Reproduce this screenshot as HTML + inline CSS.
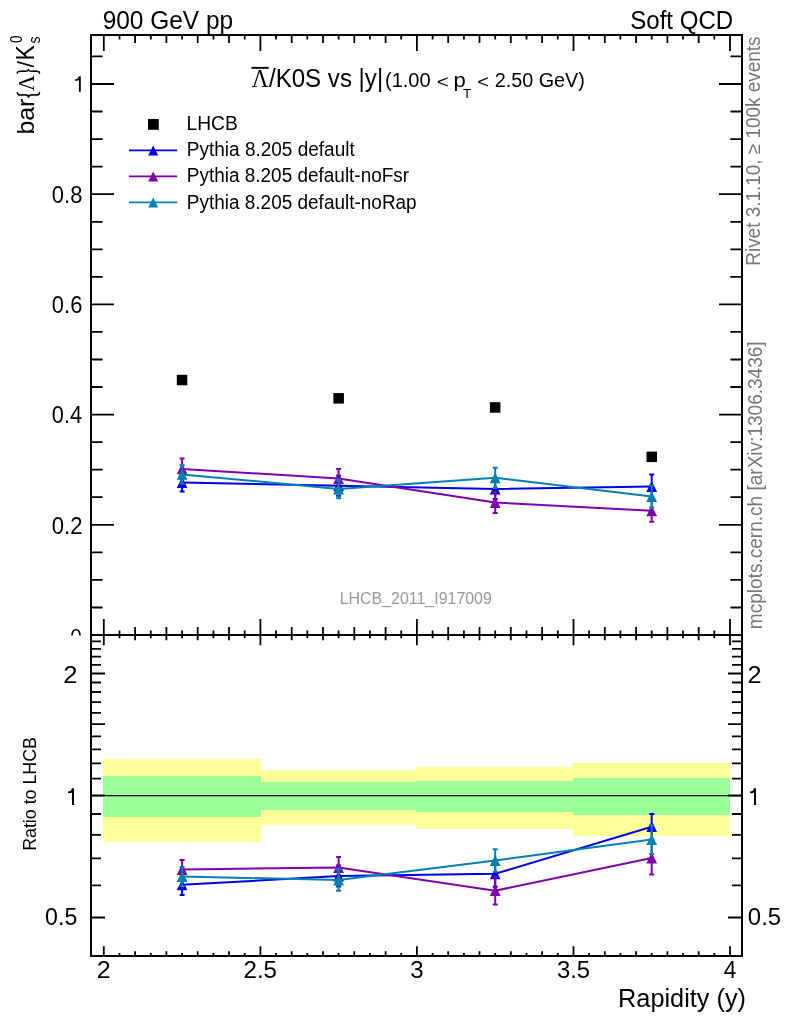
<!DOCTYPE html>
<html><head><meta charset="utf-8"><style>
html,body{margin:0;padding:0;background:#fff;width:786px;height:1024px;overflow:hidden}
svg{display:block;font-family:"Liberation Sans",sans-serif;will-change:transform}

</style></head><body>
<svg width="786" height="1024" viewBox="0 0 786 1024">
<rect width="786" height="1024" fill="#fff"/>
<rect x="103" y="758.6" width="157.5" height="83.1" fill="#ffff99" shape-rendering="crispEdges"/>
<rect x="260.5" y="770" width="155.5" height="54.9" fill="#ffff99" shape-rendering="crispEdges"/>
<rect x="416" y="767.1" width="157" height="61.7" fill="#ffff99" shape-rendering="crispEdges"/>
<rect x="573" y="763" width="157" height="72.6" fill="#ffff99" shape-rendering="crispEdges"/>
<rect x="103" y="775.9" width="157.5" height="41.2" fill="#99ff99" shape-rendering="crispEdges"/>
<rect x="260.5" y="782" width="155.5" height="27.7" fill="#99ff99" shape-rendering="crispEdges"/>
<rect x="416" y="780.5" width="157" height="31.3" fill="#99ff99" shape-rendering="crispEdges"/>
<rect x="573" y="778.1" width="157" height="36.6" fill="#99ff99" shape-rendering="crispEdges"/>
<line x1="91" y1="795.5" x2="742" y2="795.5" stroke="#000" stroke-width="1.25"/>
<path d="M103.8 35.0L103.8 51.0M103.8 635.0L103.8 619.0M103.8 635.0L103.8 645.2M103.8 956.0L103.8 946.2M119.5 35.0L119.5 39.5M119.5 635.0L119.5 630.5M119.5 635.0L119.5 638.3M119.5 956.0L119.5 953.1M135.1 35.0L135.1 43.0M135.1 635.0L135.1 627.0M135.1 635.0L135.1 640.3M135.1 956.0L135.1 951.2M150.8 35.0L150.8 39.5M150.8 635.0L150.8 630.5M150.8 635.0L150.8 638.3M150.8 956.0L150.8 953.1M166.4 35.0L166.4 43.0M166.4 635.0L166.4 627.0M166.4 635.0L166.4 640.3M166.4 956.0L166.4 951.2M182.1 35.0L182.1 39.5M182.1 635.0L182.1 630.5M182.1 635.0L182.1 638.3M182.1 956.0L182.1 953.1M197.7 35.0L197.7 43.0M197.7 635.0L197.7 627.0M197.7 635.0L197.7 640.3M197.7 956.0L197.7 951.2M213.4 35.0L213.4 39.5M213.4 635.0L213.4 630.5M213.4 635.0L213.4 638.3M213.4 956.0L213.4 953.1M229.0 35.0L229.0 43.0M229.0 635.0L229.0 627.0M229.0 635.0L229.0 640.3M229.0 956.0L229.0 951.2M244.7 35.0L244.7 39.5M244.7 635.0L244.7 630.5M244.7 635.0L244.7 638.3M244.7 956.0L244.7 953.1M260.4 35.0L260.4 51.0M260.4 635.0L260.4 619.0M260.4 635.0L260.4 645.2M260.4 956.0L260.4 946.2M276.0 35.0L276.0 39.5M276.0 635.0L276.0 630.5M276.0 635.0L276.0 638.3M276.0 956.0L276.0 953.1M291.7 35.0L291.7 43.0M291.7 635.0L291.7 627.0M291.7 635.0L291.7 640.3M291.7 956.0L291.7 951.2M307.3 35.0L307.3 39.5M307.3 635.0L307.3 630.5M307.3 635.0L307.3 638.3M307.3 956.0L307.3 953.1M323.0 35.0L323.0 43.0M323.0 635.0L323.0 627.0M323.0 635.0L323.0 640.3M323.0 956.0L323.0 951.2M338.6 35.0L338.6 39.5M338.6 635.0L338.6 630.5M338.6 635.0L338.6 638.3M338.6 956.0L338.6 953.1M354.3 35.0L354.3 43.0M354.3 635.0L354.3 627.0M354.3 635.0L354.3 640.3M354.3 956.0L354.3 951.2M369.9 35.0L369.9 39.5M369.9 635.0L369.9 630.5M369.9 635.0L369.9 638.3M369.9 956.0L369.9 953.1M385.6 35.0L385.6 43.0M385.6 635.0L385.6 627.0M385.6 635.0L385.6 640.3M385.6 956.0L385.6 951.2M401.2 35.0L401.2 39.5M401.2 635.0L401.2 630.5M401.2 635.0L401.2 638.3M401.2 956.0L401.2 953.1M416.9 35.0L416.9 51.0M416.9 635.0L416.9 619.0M416.9 635.0L416.9 645.2M416.9 956.0L416.9 946.2M432.6 35.0L432.6 39.5M432.6 635.0L432.6 630.5M432.6 635.0L432.6 638.3M432.6 956.0L432.6 953.1M448.2 35.0L448.2 43.0M448.2 635.0L448.2 627.0M448.2 635.0L448.2 640.3M448.2 956.0L448.2 951.2M463.9 35.0L463.9 39.5M463.9 635.0L463.9 630.5M463.9 635.0L463.9 638.3M463.9 956.0L463.9 953.1M479.5 35.0L479.5 43.0M479.5 635.0L479.5 627.0M479.5 635.0L479.5 640.3M479.5 956.0L479.5 951.2M495.2 35.0L495.2 39.5M495.2 635.0L495.2 630.5M495.2 635.0L495.2 638.3M495.2 956.0L495.2 953.1M510.8 35.0L510.8 43.0M510.8 635.0L510.8 627.0M510.8 635.0L510.8 640.3M510.8 956.0L510.8 951.2M526.5 35.0L526.5 39.5M526.5 635.0L526.5 630.5M526.5 635.0L526.5 638.3M526.5 956.0L526.5 953.1M542.1 35.0L542.1 43.0M542.1 635.0L542.1 627.0M542.1 635.0L542.1 640.3M542.1 956.0L542.1 951.2M557.8 35.0L557.8 39.5M557.8 635.0L557.8 630.5M557.8 635.0L557.8 638.3M557.8 956.0L557.8 953.1M573.5 35.0L573.5 51.0M573.5 635.0L573.5 619.0M573.5 635.0L573.5 645.2M573.5 956.0L573.5 946.2M589.1 35.0L589.1 39.5M589.1 635.0L589.1 630.5M589.1 635.0L589.1 638.3M589.1 956.0L589.1 953.1M604.8 35.0L604.8 43.0M604.8 635.0L604.8 627.0M604.8 635.0L604.8 640.3M604.8 956.0L604.8 951.2M620.4 35.0L620.4 39.5M620.4 635.0L620.4 630.5M620.4 635.0L620.4 638.3M620.4 956.0L620.4 953.1M636.1 35.0L636.1 43.0M636.1 635.0L636.1 627.0M636.1 635.0L636.1 640.3M636.1 956.0L636.1 951.2M651.7 35.0L651.7 39.5M651.7 635.0L651.7 630.5M651.7 635.0L651.7 638.3M651.7 956.0L651.7 953.1M667.4 35.0L667.4 43.0M667.4 635.0L667.4 627.0M667.4 635.0L667.4 640.3M667.4 956.0L667.4 951.2M683.0 35.0L683.0 39.5M683.0 635.0L683.0 630.5M683.0 635.0L683.0 638.3M683.0 956.0L683.0 953.1M698.7 35.0L698.7 43.0M698.7 635.0L698.7 627.0M698.7 635.0L698.7 640.3M698.7 956.0L698.7 951.2M714.3 35.0L714.3 39.5M714.3 635.0L714.3 630.5M714.3 635.0L714.3 638.3M714.3 956.0L714.3 953.1M730.0 35.0L730.0 51.0M730.0 635.0L730.0 619.0M730.0 635.0L730.0 645.2M730.0 956.0L730.0 946.2M91.0 635.0L114.0 635.0M742.0 635.0L719.0 635.0M91.0 607.5L102.6 607.5M742.0 607.5L730.4 607.5M91.0 579.9L102.6 579.9M742.0 579.9L730.4 579.9M91.0 552.4L102.6 552.4M742.0 552.4L730.4 552.4M91.0 524.8L114.0 524.8M742.0 524.8L719.0 524.8M91.0 497.2L102.6 497.2M742.0 497.2L730.4 497.2M91.0 469.7L102.6 469.7M742.0 469.7L730.4 469.7M91.0 442.1L102.6 442.1M742.0 442.1L730.4 442.1M91.0 414.6L114.0 414.6M742.0 414.6L719.0 414.6M91.0 387.0L102.6 387.0M742.0 387.0L730.4 387.0M91.0 359.5L102.6 359.5M742.0 359.5L730.4 359.5M91.0 331.9L102.6 331.9M742.0 331.9L730.4 331.9M91.0 304.4L114.0 304.4M742.0 304.4L719.0 304.4M91.0 276.8L102.6 276.8M742.0 276.8L730.4 276.8M91.0 249.3L102.6 249.3M742.0 249.3L730.4 249.3M91.0 221.8L102.6 221.8M742.0 221.8L730.4 221.8M91.0 194.2L114.0 194.2M742.0 194.2L719.0 194.2M91.0 166.6L102.6 166.6M742.0 166.6L730.4 166.6M91.0 139.1L102.6 139.1M742.0 139.1L730.4 139.1M91.0 111.5L102.6 111.5M742.0 111.5L730.4 111.5M91.0 84.0L114.0 84.0M742.0 84.0L719.0 84.0M91.0 56.4L102.6 56.4M742.0 56.4L730.4 56.4M91.0 917.5L105.0 917.5M742.0 917.5L728.0 917.5M91.0 885.4L101.0 885.4M742.0 885.4L732.0 885.4M91.0 858.3L101.0 858.3M742.0 858.3L732.0 858.3M91.0 834.8L101.0 834.8M742.0 834.8L732.0 834.8M91.0 814.0L101.0 814.0M742.0 814.0L732.0 814.0M91.0 795.5L105.0 795.5M742.0 795.5L728.0 795.5M91.0 778.7L101.0 778.7M742.0 778.7L732.0 778.7M91.0 763.4L101.0 763.4M742.0 763.4L732.0 763.4M91.0 749.3L101.0 749.3M742.0 749.3L732.0 749.3M91.0 736.3L101.0 736.3M742.0 736.3L732.0 736.3M91.0 724.1L105.0 724.1M742.0 724.1L728.0 724.1M91.0 712.8L101.0 712.8M742.0 712.8L732.0 712.8M91.0 702.1L101.0 702.1M742.0 702.1L732.0 702.1M91.0 692.0L101.0 692.0M742.0 692.0L732.0 692.0M91.0 682.5L101.0 682.5M742.0 682.5L732.0 682.5M91.0 673.5L105.0 673.5M742.0 673.5L728.0 673.5M91.0 664.9L101.0 664.9M742.0 664.9L732.0 664.9M91.0 656.7L101.0 656.7M742.0 656.7L732.0 656.7M91.0 648.9L101.0 648.9M742.0 648.9L732.0 648.9M91.0 641.4L101.0 641.4M742.0 641.4L732.0 641.4" stroke="#000" stroke-width="1.8" fill="none"/>
<polyline points="182.1,482.6 338.6,485.8 495.2,489.0 651.7,486.5" fill="none" stroke="#0000e6" stroke-width="2"/>
<path d="M182.1 473.6L182.1 491.6M179.6 473.6L184.6 473.6M179.6 491.6L184.6 491.6M338.6 475.8L338.6 495.8M336.1 475.8L341.1 475.8M336.1 495.8L341.1 495.8M495.2 479.0L495.2 499.0M492.7 479.0L497.7 479.0M492.7 499.0L497.7 499.0M651.7 474.5L651.7 498.5M649.2 474.5L654.2 474.5M649.2 498.5L654.2 498.5" stroke="#0000e6" stroke-width="2" fill="none"/>
<path d="M176.7 488.0L187.5 488.0L182.1 477.2ZM333.2 491.2L344.0 491.2L338.6 480.4ZM489.8 494.4L500.6 494.4L495.2 483.6ZM646.3 491.9L657.1 491.9L651.7 481.1Z" fill="#0000e6"/>
<polyline points="182.1,468.9 338.6,478.5 495.2,502.5 651.7,510.8" fill="none" stroke="#8000b0" stroke-width="2"/>
<path d="M182.1 458.6L182.1 479.2M179.6 458.6L184.6 458.6M179.6 479.2L184.6 479.2M338.6 468.9L338.6 488.1M336.1 468.9L341.1 468.9M336.1 488.1L341.1 488.1M495.2 492.1L495.2 512.9M492.7 492.1L497.7 492.1M492.7 512.9L497.7 512.9M651.7 499.9L651.7 521.7M649.2 499.9L654.2 499.9M649.2 521.7L654.2 521.7" stroke="#8000b0" stroke-width="2" fill="none"/>
<path d="M176.7 474.3L187.5 474.3L182.1 463.5ZM333.2 483.9L344.0 483.9L338.6 473.1ZM489.8 507.9L500.6 507.9L495.2 497.1ZM646.3 516.2L657.1 516.2L651.7 505.4Z" fill="#8000b0"/>
<polyline points="182.1,474.4 338.6,489.0 495.2,477.8 651.7,496.5" fill="none" stroke="#0082b0" stroke-width="2"/>
<path d="M182.1 465.2L182.1 483.6M179.6 465.2L184.6 465.2M179.6 483.6L184.6 483.6M338.6 479.7L338.6 498.3M336.1 479.7L341.1 479.7M336.1 498.3L341.1 498.3M495.2 467.7L495.2 487.9M492.7 467.7L497.7 467.7M492.7 487.9L497.7 487.9M651.7 485.5L651.7 507.5M649.2 485.5L654.2 485.5M649.2 507.5L654.2 507.5" stroke="#0082b0" stroke-width="2" fill="none"/>
<path d="M176.7 479.8L187.5 479.8L182.1 469.0ZM333.2 494.4L344.0 494.4L338.6 483.6ZM489.8 483.2L500.6 483.2L495.2 472.4ZM646.3 501.9L657.1 501.9L651.7 491.1Z" fill="#0082b0"/>
<rect x="176.8" y="374.8" width="10.5" height="10.5" fill="#000"/>
<rect x="333.4" y="393.1" width="10.5" height="10.5" fill="#000"/>
<rect x="489.9" y="402.2" width="10.5" height="10.5" fill="#000"/>
<rect x="646.5" y="451.6" width="10.5" height="10.5" fill="#000"/>
<polyline points="182.1,884.8 338.6,876.0 495.2,873.8 651.7,826.7" fill="none" stroke="#0000e6" stroke-width="2"/>
<path d="M182.1 874.6L182.1 895.0M179.6 874.6L184.6 874.6M179.6 895.0L184.6 895.0M338.6 865.4L338.6 886.6M336.1 865.4L341.1 865.4M336.1 886.6L341.1 886.6M495.2 860.8L495.2 886.8M492.7 860.8L497.7 860.8M492.7 886.8L497.7 886.8M651.7 813.9L651.7 839.5M649.2 813.9L654.2 813.9M649.2 839.5L654.2 839.5" stroke="#0000e6" stroke-width="2" fill="none"/>
<path d="M176.7 890.2L187.5 890.2L182.1 879.4ZM333.2 881.4L344.0 881.4L338.6 870.6ZM489.8 879.2L500.6 879.2L495.2 868.4ZM646.3 832.1L657.1 832.1L651.7 821.3Z" fill="#0000e6"/>
<polyline points="182.1,869.5 338.6,867.5 495.2,890.7 651.7,858.0" fill="none" stroke="#8000b0" stroke-width="2"/>
<path d="M182.1 860.0L182.1 879.0M179.6 860.0L184.6 860.0M179.6 879.0L184.6 879.0M338.6 857.0L338.6 878.0M336.1 857.0L341.1 857.0M336.1 878.0L341.1 878.0M495.2 876.8L495.2 904.6M492.7 876.8L497.7 876.8M492.7 904.6L497.7 904.6M651.7 841.4L651.7 874.6M649.2 841.4L654.2 841.4M649.2 874.6L654.2 874.6" stroke="#8000b0" stroke-width="2" fill="none"/>
<path d="M176.7 874.9L187.5 874.9L182.1 864.1ZM333.2 872.9L344.0 872.9L338.6 862.1ZM489.8 896.1L500.6 896.1L495.2 885.3ZM646.3 863.4L657.1 863.4L651.7 852.6Z" fill="#8000b0"/>
<polyline points="182.1,876.5 338.6,880.0 495.2,860.5 651.7,839.6" fill="none" stroke="#0082b0" stroke-width="2"/>
<path d="M182.1 867.0L182.1 886.0M179.6 867.0L184.6 867.0M179.6 886.0L184.6 886.0M338.6 869.2L338.6 890.8M336.1 869.2L341.1 869.2M336.1 890.8L341.1 890.8M495.2 849.2L495.2 871.8M492.7 849.2L497.7 849.2M492.7 871.8L497.7 871.8M651.7 825.3L651.7 853.9M649.2 825.3L654.2 825.3M649.2 853.9L654.2 853.9" stroke="#0082b0" stroke-width="2" fill="none"/>
<path d="M176.7 881.9L187.5 881.9L182.1 871.1ZM333.2 885.4L344.0 885.4L338.6 874.6ZM489.8 865.9L500.6 865.9L495.2 855.1ZM646.3 845.0L657.1 845.0L651.7 834.2Z" fill="#0082b0"/>
<clipPath id="c0"><rect x="0" y="0" width="90" height="635.6"/></clipPath>
<g clip-path="url(#c0)"><text x="70.29" y="643.60" font-family="&quot;Liberation Sans&quot;, sans-serif" font-size="22.5" fill="#000" textLength="11.52" lengthAdjust="spacingAndGlyphs">0</text></g>
<rect x="91" y="35" width="651" height="600" fill="none" stroke="#000" stroke-width="2"/>
<rect x="91" y="635" width="651" height="321" fill="none" stroke="#000" stroke-width="2"/>
<text x="102.65" y="29.00" font-family="&quot;Liberation Sans&quot;, sans-serif" font-size="25" fill="#000" textLength="130.47" lengthAdjust="spacingAndGlyphs">900 GeV pp</text>
<text x="630.21" y="28.90" font-family="&quot;Liberation Sans&quot;, sans-serif" font-size="25" fill="#000" textLength="103.05" lengthAdjust="spacingAndGlyphs">Soft QCD</text>
<path d="M80.80 91.80L80.80 76.20L78.70 76.20Q78.40 79.32 75.00 79.32L75.00 80.72Q78.50 80.88 78.90 80.10L78.90 91.80Z" fill="#000"/>
<text x="51.84" y="203.00" font-family="&quot;Liberation Sans&quot;, sans-serif" font-size="23" fill="#000" textLength="30.51" lengthAdjust="spacingAndGlyphs">0.8</text>
<text x="51.84" y="313.20" font-family="&quot;Liberation Sans&quot;, sans-serif" font-size="23" fill="#000" textLength="30.52" lengthAdjust="spacingAndGlyphs">0.6</text>
<text x="51.85" y="423.40" font-family="&quot;Liberation Sans&quot;, sans-serif" font-size="23" fill="#000" textLength="30.18" lengthAdjust="spacingAndGlyphs">0.4</text>
<text x="51.84" y="533.60" font-family="&quot;Liberation Sans&quot;, sans-serif" font-size="23" fill="#000" textLength="30.67" lengthAdjust="spacingAndGlyphs">0.2</text>
<text x="63.21" y="682.90" font-family="&quot;Liberation Sans&quot;, sans-serif" font-size="24" fill="#000" textLength="14.28" lengthAdjust="spacingAndGlyphs">2</text>
<path d="M74.00 804.90L74.00 788.30L71.80 788.30Q71.50 791.62 68.00 791.62L68.00 793.11Q71.60 793.28 72.00 792.45L72.00 804.90Z" fill="#000"/>
<text x="45.10" y="925.20" font-family="&quot;Liberation Sans&quot;, sans-serif" font-size="24" fill="#000" textLength="32.18" lengthAdjust="spacingAndGlyphs">0.5</text>
<text x="747.43" y="682.90" font-family="&quot;Liberation Sans&quot;, sans-serif" font-size="24" fill="#000" textLength="14.04" lengthAdjust="spacingAndGlyphs">2</text>
<path d="M756.00 804.90L756.00 788.30L753.80 788.30Q753.50 791.62 750.00 791.62L750.00 793.11Q753.60 793.28 754.00 792.45L754.00 804.90Z" fill="#000"/>
<text x="747.86" y="925.20" font-family="&quot;Liberation Sans&quot;, sans-serif" font-size="24" fill="#000" textLength="33.34" lengthAdjust="spacingAndGlyphs">0.5</text>
<text x="96.84" y="978.00" font-family="&quot;Liberation Sans&quot;, sans-serif" font-size="24.3" fill="#000" textLength="13.92" lengthAdjust="spacingAndGlyphs">2</text>
<text x="243.49" y="978.00" font-family="&quot;Liberation Sans&quot;, sans-serif" font-size="24.3" fill="#000" textLength="33.53" lengthAdjust="spacingAndGlyphs">2.5</text>
<text x="410.28" y="978.00" font-family="&quot;Liberation Sans&quot;, sans-serif" font-size="24.3" fill="#000" textLength="13.37" lengthAdjust="spacingAndGlyphs">3</text>
<text x="556.89" y="978.00" font-family="&quot;Liberation Sans&quot;, sans-serif" font-size="24.3" fill="#000" textLength="33.21" lengthAdjust="spacingAndGlyphs">3.5</text>
<text x="723.78" y="978.00" font-family="&quot;Liberation Sans&quot;, sans-serif" font-size="24.3" fill="#000" textLength="12.58" lengthAdjust="spacingAndGlyphs">4</text>
<text x="618.02" y="1006.70" font-family="&quot;Liberation Sans&quot;, sans-serif" font-size="26" fill="#000" textLength="128.05" lengthAdjust="spacingAndGlyphs">Rapidity (y)</text>
<text x="339.70" y="603.80" font-family="&quot;Liberation Sans&quot;, sans-serif" font-size="17" fill="#999" textLength="152.15" lengthAdjust="spacingAndGlyphs">LHCB_2011_I917009</text>
<text x="-850.86" y="36.25" font-family="&quot;Liberation Sans&quot;, sans-serif" font-size="18.8" fill="#000" textLength="113.80" lengthAdjust="spacingAndGlyphs" transform="rotate(-90)">Ratio to LHCB</text>
<text x="-265.75" y="760.30" font-family="&quot;Liberation Sans&quot;, sans-serif" font-size="19.4" fill="#777" textLength="229.34" lengthAdjust="spacingAndGlyphs" transform="rotate(-90)">Rivet 3.1.10, ≥ 100k events</text>
<text x="-629.16" y="762.00" font-family="&quot;Liberation Sans&quot;, sans-serif" font-size="19.5" fill="#777" textLength="287.82" lengthAdjust="spacingAndGlyphs" transform="rotate(-90)">mcplots.cern.ch [arXiv:1306.3436]</text>
<text x="-134.61" y="33.90" font-family="&quot;Liberation Sans&quot;, sans-serif" font-size="24.5" fill="#000" textLength="36.02" lengthAdjust="spacingAndGlyphs" transform="rotate(-90)">bar</text>
<text x="-98.98" y="36.40" font-family="&quot;Liberation Serif&quot;, serif" font-size="27" fill="#000" textLength="8.37" lengthAdjust="spacingAndGlyphs" transform="rotate(-90)" stroke="#000" stroke-width="0.7">{</text>
<text x="-91.01" y="33.90" font-family="&quot;Liberation Serif&quot;, serif" font-size="23.5" fill="#000" textLength="15.94" lengthAdjust="spacingAndGlyphs" transform="rotate(-90)">Λ</text>
<text x="-74.78" y="36.40" font-family="&quot;Liberation Serif&quot;, serif" font-size="27" fill="#000" textLength="6.76" lengthAdjust="spacingAndGlyphs" transform="rotate(-90)" stroke="#000" stroke-width="0.7">}</text>
<text x="-67.60" y="33.90" font-family="&quot;Liberation Sans&quot;, sans-serif" font-size="24.5" fill="#000" textLength="6.50" lengthAdjust="spacingAndGlyphs" transform="rotate(-90)">/</text>
<text x="-60.60" y="33.90" font-family="&quot;Liberation Sans&quot;, sans-serif" font-size="25" fill="#000" textLength="15.46" lengthAdjust="spacingAndGlyphs" transform="rotate(-90)">K</text>
<text x="-43.40" y="40.20" font-family="&quot;Liberation Sans&quot;, sans-serif" font-size="16" fill="#000" textLength="7.11" lengthAdjust="spacingAndGlyphs" transform="rotate(-90)">s</text>
<text x="-43.12" y="22.10" font-family="&quot;Liberation Sans&quot;, sans-serif" font-size="16" fill="#000" textLength="7.45" lengthAdjust="spacingAndGlyphs" transform="rotate(-90)">0</text>
<text x="251.77" y="86.90" font-family="&quot;Liberation Serif&quot;, serif" font-size="24.5" fill="#000" textLength="16.76" lengthAdjust="spacingAndGlyphs">Λ</text>
<rect x="251.5" y="66.9" width="17.2" height="1.9" fill="#000"/>
<text x="269.00" y="86.70" font-family="&quot;Liberation Sans&quot;, sans-serif" font-size="25" fill="#000" textLength="114.15" lengthAdjust="spacingAndGlyphs">/K0S vs |y|</text>
<text x="384.96" y="86.90" font-family="&quot;Liberation Sans&quot;, sans-serif" font-size="20.5" fill="#000" textLength="45.73" lengthAdjust="spacingAndGlyphs">(1.00</text>
<text x="436.88" y="88.40" font-family="&quot;Liberation Sans&quot;, sans-serif" font-size="19" fill="#000" textLength="12.02" lengthAdjust="spacingAndGlyphs">&lt;</text>
<text x="453.48" y="86.90" font-family="&quot;Liberation Sans&quot;, sans-serif" font-size="20.5" fill="#000" textLength="12.24" lengthAdjust="spacingAndGlyphs">p</text>
<text x="463.00" y="97.70" font-family="&quot;Liberation Sans&quot;, sans-serif" font-size="13.5" fill="#000" textLength="8.21" lengthAdjust="spacingAndGlyphs">T</text>
<text x="477.21" y="88.40" font-family="&quot;Liberation Sans&quot;, sans-serif" font-size="19" fill="#000" textLength="11.78" lengthAdjust="spacingAndGlyphs">&lt;</text>
<text x="494.70" y="86.90" font-family="&quot;Liberation Sans&quot;, sans-serif" font-size="20.5" fill="#000" textLength="90.22" lengthAdjust="spacingAndGlyphs">2.50 GeV)</text>
<rect x="148" y="119" width="10.8" height="10.8" fill="#000"/>
<text x="186.52" y="129.80" font-family="&quot;Liberation Sans&quot;, sans-serif" font-size="20" fill="#000" textLength="51.29" lengthAdjust="spacingAndGlyphs">LHCB</text>
<line x1="129" y1="150.4" x2="177.2" y2="150.4" stroke="#0000e6" stroke-width="1.6"/>
<path d="M148.2 155.4L158.2 155.4L153.2 145.4Z" fill="#0000e6"/>
<text x="186.84" y="155.80" font-family="&quot;Liberation Sans&quot;, sans-serif" font-size="20" fill="#000" textLength="167.90" lengthAdjust="spacingAndGlyphs">Pythia 8.205 default</text>
<line x1="129" y1="176.4" x2="177.2" y2="176.4" stroke="#8000b0" stroke-width="1.6"/>
<path d="M148.2 181.4L158.2 181.4L153.2 171.4Z" fill="#8000b0"/>
<text x="186.85" y="182.30" font-family="&quot;Liberation Sans&quot;, sans-serif" font-size="20" fill="#000" textLength="222.27" lengthAdjust="spacingAndGlyphs">Pythia 8.205 default-noFsr</text>
<line x1="129" y1="202.4" x2="177.2" y2="202.4" stroke="#0082b0" stroke-width="1.6"/>
<path d="M148.2 207.4L158.2 207.4L153.2 197.4Z" fill="#0082b0"/>
<text x="186.84" y="208.70" font-family="&quot;Liberation Sans&quot;, sans-serif" font-size="20" fill="#000" textLength="229.85" lengthAdjust="spacingAndGlyphs">Pythia 8.205 default-noRap</text>
</svg></body></html>
